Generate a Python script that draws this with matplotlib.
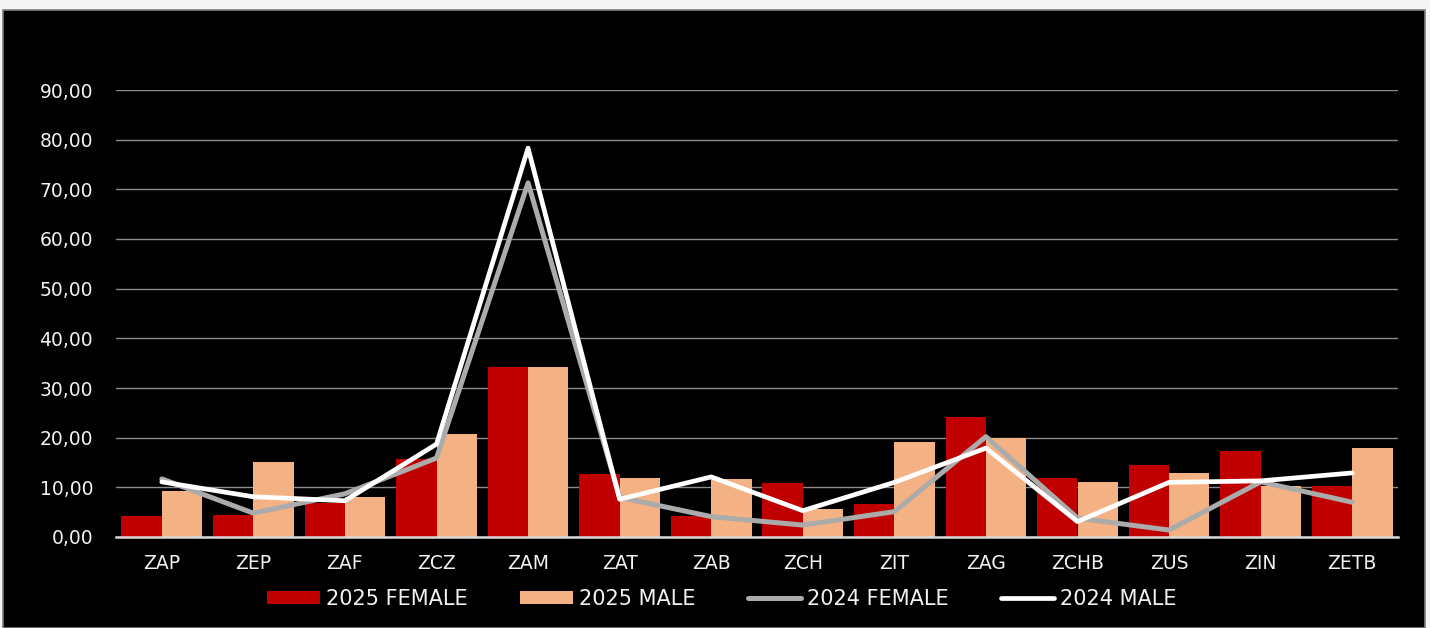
import matplotlib
matplotlib.use('Agg')
import matplotlib.pyplot as plt
import matplotlib.patches as mpatches
from matplotlib.lines import Line2D
import numpy as np

plt.rcParams['font.family'] = ['DejaVu Sans']

# Data
categories = ['ZAP', 'ZEP', 'ZAF', 'ZCZ', 'ZAM', 'ZAT', 'ZAB', 'ZCH', 'ZIT', 'ZAG', 'ZCHB', 'ZUS', 'ZIN', 'ZETB']
female_2025 = [4.3, 4.5, 6.8, 15.7, 34.3, 12.7, 4.3, 10.9, 6.7, 24.1, 11.9, 14.4, 17.3, 10.3]
male_2025 = [9.3, 15.1, 8.1, 20.7, 34.3, 11.9, 11.7, 5.6, 19.1, 19.9, 11.0, 12.8, 10.3, 18.0]
female_2024 = [11.7, 4.8, 8.7, 15.9, 71.3, 8.0, 4.1, 2.4, 5.1, 20.2, 3.8, 1.4, 11.1, 7.0]
male_2024 = [11.1, 8.1, 7.3, 18.7, 78.3, 7.6, 12.1, 5.3, 11.0, 17.9, 3.1, 11.0, 11.3, 12.9]
yticks = [0, 10, 20, 30, 40, 50, 60, 70, 80, 90]
ytick_labels = ['0,00', '10,00', '20,00', '30,00', '40,00', '50,00', '60,00', '70,00', '80,00', '90,00']

RED = '#C00000'
PEACH = '#F4B183'
GRAY = '#ABABAB'

fig = plt.figure(figsize=(14.3, 6.28), dpi=100, facecolor='#f4f4f4')
# black panel behind the axes
panel = mpatches.Rectangle((3 / 1430, 0), 1422 / 1430, 618 / 628,
                           transform=fig.transFigure, facecolor='black',
                           edgecolor='#7f7f7f', linewidth=1.2, zorder=-10)
fig.patches.append(panel)

ax = fig.add_axes([116 / 1430, 1 - 537 / 628, (1398 - 116) / 1430, (537 - 90) / 628])
ax.set_facecolor('none')

x = np.arange(len(categories))
w = 0.44
ax.bar(x - w / 2, female_2025, width=w, color=RED, zorder=3)
ax.bar(x + w / 2, male_2025, width=w, color=PEACH, zorder=3)
ax.plot(x, female_2024, color=GRAY, linewidth=3.6, zorder=4, solid_capstyle='round')
ax.plot(x, male_2024, color='white', linewidth=3.4, zorder=5, solid_capstyle='round')

ax.set_xlim(-0.5, len(categories) - 0.5)
ax.set_ylim(0, 90)
ax.set_yticks(yticks)
ax.set_yticklabels(ytick_labels, color='#f2f2f2', fontsize=13.5)
ax.set_xticks(x)
ax.set_xticklabels(categories, color='#f2f2f2', fontsize=13.5)
ax.tick_params(axis='both', length=0)
ax.tick_params(axis='y', pad=16.5)
ax.tick_params(axis='x', pad=12)
ax.yaxis.grid(True, color='#8c8c8c', linewidth=1.0, zorder=0)
ax.set_axisbelow(True)
for side in ['top', 'right', 'left']:
    ax.spines[side].set_visible(False)
ax.spines['bottom'].set_color('#d9d9d9')
ax.spines['bottom'].set_linewidth(1.8)
ax.spines['bottom'].set_zorder(6)

handles = [
    mpatches.Patch(facecolor=RED, label='2025 FEMALE'),
    mpatches.Patch(facecolor=PEACH, label='2025 MALE'),
    Line2D([0], [0], color=GRAY, linewidth=3.6, solid_capstyle='round', label='2024 FEMALE'),
    Line2D([0], [0], color='white', linewidth=3.4, solid_capstyle='round', label='2024 MALE'),
]
fig.legend(handles=handles, loc='center', bbox_to_anchor=(722 / 1430, 1 - 599 / 628), ncol=4,
           frameon=False, fontsize=15, labelcolor='#f2f2f2', handlelength=2.55,
           handleheight=0.6, handletextpad=0.3, columnspacing=2.5, borderpad=0)

fig.savefig('out.png', dpi=100, facecolor=fig.get_facecolor())
